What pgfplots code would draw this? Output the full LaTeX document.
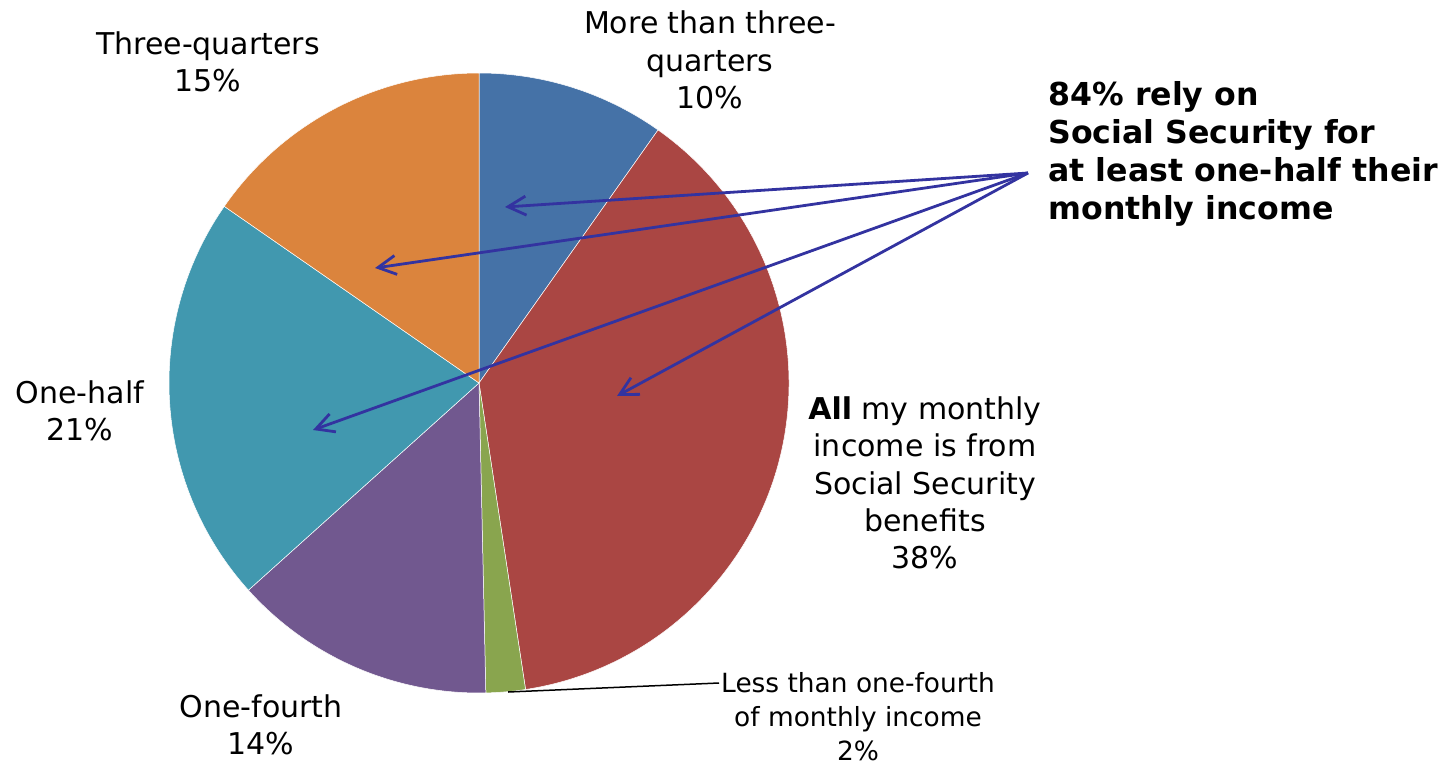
\documentclass[border=0pt]{standalone}
\usepackage{pgfplots}
\pgfplotsset{compat=1.18}
\usepackage{pgfplotstable}
\usetikzlibrary{arrows.meta}
\usepackage{fontspec}
\setmainfont{DejaVu Sans}
\definecolor{piecol0}{HTML}{4572A7}
\definecolor{piecol1}{HTML}{AA4643}
\definecolor{piecol2}{HTML}{89A54E}
\definecolor{piecol3}{HTML}{71588F}
\definecolor{piecol4}{HTML}{4198AF}
\definecolor{piecol5}{HTML}{DB843D}
\definecolor{arrowblue}{HTML}{3333A0}

% share (%) of each slice, clockwise from 12 o'clock
\pgfplotstableread{
idx value
0 9.8
1 37.8
2 2.05
3 13.7
4 21.3
5 15.35
}\piedata

\begin{document}
\begin{tikzpicture}
\path[use as bounding box] (0,0) rectangle (727pt,382.5pt);
\xdef\cum{90}
\foreach \i in {0,...,5}{%
  \pgfplotstablegetelem{\i}{value}\of\piedata
  \pgfmathsetmacro\sa{\cum}%
  \pgfmathsetmacro\sb{\cum-3.6*\pgfplotsretval}%
  \expandafter\xdef\csname pieA\i\endcsname{\sa}%
  \expandafter\xdef\csname pieB\i\endcsname{\sb}%
  \xdef\cum{\sb}%
}
\begin{axis}[
  at={(0,0)}, anchor=south west,
  x=0.5pt, y=0.5pt,
  xmin=0, xmax=1454, ymin=0, ymax=765,
  y dir=reverse,
  hide axis, clip=false,
]
\pgfplotsinvokeforeach{0,...,5}{%
  \fill[fill=piecol#1, draw=white, line width=0.25pt]
    (axis cs:479,383) -- ++(\csname pieA#1\endcsname:155pt)
    arc[start angle=\csname pieA#1\endcsname, end angle=\csname pieB#1\endcsname, radius=155pt] -- cycle;
}
% leader line for the 2% slice
\draw[black, line width=0.75pt] (axis cs:508,692) -- (axis cs:719,683);
% arrows
\tikzset{bluearrow/.style={arrowblue, line width=1.4pt, -{Straight Barb[length=9pt,width=9.5pt,line width=1.4pt]}}}
\draw[bluearrow] (axis cs:1028,173) -- (axis cs:505,207);
\draw[bluearrow] (axis cs:1028,173) -- (axis cs:375,268);
\draw[bluearrow] (axis cs:1028,173) -- (axis cs:313,430);
\draw[bluearrow] (axis cs:1028,173) -- (axis cs:617,396);
% labels
\begin{scope}[every node/.style={font=\fontsize{15}{18.7}\selectfont, align=center, inner sep=0pt}]
\node at (axis cs:710,60) {More than three-\\quarters\\10\%};
\node at (axis cs:208,62) {Three-quarters\\15\%};
\node at (axis cs:80,411) {One-half\\21\%};
\node at (axis cs:261,725) {One-fourth\\14\%};
\node at (axis cs:925,483) {\textbf{All} my monthly\\income is from\\Social Security\\benefits\\38\%};
\node[font=\fontsize{13.2}{17}\selectfont] at (axis cs:858,717) {Less than one-fourth\\of monthly income\\2\%};
\node[anchor=west, align=left, font=\bfseries\fontsize{15.8}{19}\selectfont] at (axis cs:1048,154) {84\% rely on\\Social Security for\\at least one-half their\\monthly income};
\end{scope}
\end{axis}
\end{tikzpicture}
\end{document}
